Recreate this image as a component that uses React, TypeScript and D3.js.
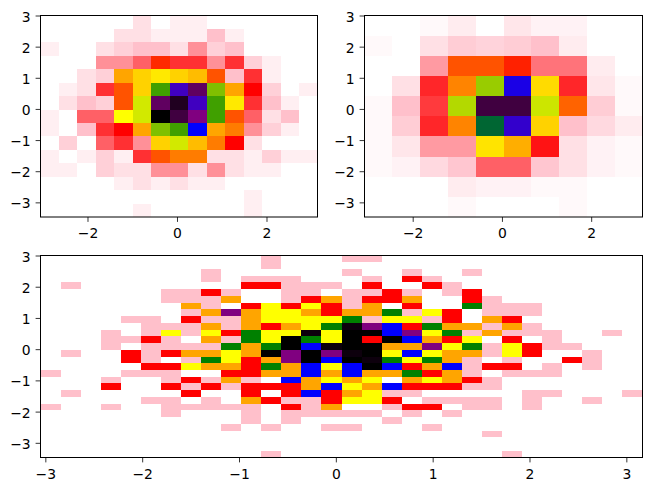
import React, { useEffect, useRef } from "react";
import * as d3 from "d3";

// Colour ramp of the histogram
const rampColors = ["white", "pink", "red", "orange", "yellow", "green", "blue", "purple", "black"];

// Counts, rows from top to bottom
const countsTopLeft = [
  [0,0,0,0,0,2,0,1,1,0,0,0,0,0,0],
  [0,0,0,0,2,2,1,1,1,4,1,0,0,0,0],
  [1,0,0,2,3,4,4,2,5,3,4,0,0,0,0],
  [0,0,0,5,5,6,9,7,7,5,7,3,1,0,0],
  [0,0,2,3,12,14,15,14,13,10,4,7,1,0,0],
  [0,1,2,7,10,14,19,26,29,18,12,8,3,0,1],
  [0,2,4,3,10,16.7,29,31,26,19,15,7,4,1,0],
  [1,0,6,6,16,16.7,32,30,28,19,10,6,2,4,0],
  [1,0,4,7,8,12,18,19,24,12,11,5,3,1,0],
  [0,3,0,6,7,5,14,16.7,13,11,8,2,0,0,0],
  [1,0,1,3,1,7,10,11,11,2,2,1,3,1,1],
  [1,1,0,3,2,2,5,5,2,5,2,1,1,0,0],
  [0,0,0,0,1,2,1,2,1,1,0,0,0,0,0],
  [0,0,0,0,0,0,0,0,0,0,0,1,0,0,0],
  [0,0,0,0,0,1,0,0,0,0,0,1,0,0,0],
];

const countsTopRight = [
  [0,0,1,3,0,4,2,2,0,0],
  [1,0,5,8,7,8,10,3,0,0],
  [0,0,12,25,25,22,14,14,3,0],
  [0,5,18,28,44,62,36,18,4,1],
  [1,10,17,43,75,75,42,26,8,1],
  [1,8,18,28,52,64,35,10,6,3],
  [1,4,12,12,37,31,19,5,2,1],
  [1,2,6,9,15,15,9,5,2,1],
  [0,0,0,3,2,2,1,1,0,0],
  [0,0,0,1,0,0,0,1,0,0],
];

const countsBottom = [
  [0,0,0,0,0,0,0,0,0,0,0,1,0,0,0,1,1,0,0,0,0,0,0,0,0,0,0,0,0,0],
  [0,0,0,0,0,0,0,0,0,0,0,1,0,0,0,0,0,0,0,0,0,0,0,0,0,0,0,0,0,0],
  [0,0,0,0,0,0,0,0,1,0,0,0,0,0,0,1,0,0,1,0,0,1,0,0,0,0,0,0,0,0],
  [0,0,0,0,0,0,0,0,1,0,1,1,1,0,0,0,1,0,2,1,0,0,0,0,0,0,0,0,0,0],
  [0,1,0,0,0,0,0,0,0,0,2,2,1,1,1,0,2,0,0,2,1,0,0,0,0,0,0,0,0,0],
  [0,0,0,0,0,0,1,1,2,1,0,0,1,1,0,1,1,2,1,0,1,2,0,0,0,0,0,0,0,0],
  [0,0,0,0,0,0,1,1,1,3,0,0,1,2,3,1,2,2,3,0,0,2,1,0,0,0,0,0,0,0],
  [0,0,0,0,0,0,0,3,1,0,2,4,2,4,2,1,3,0,2,0,0,5,1,1,1,0,0,0,0,0],
  [0,0,0,0,0,0,0,1,3,7,3,4,4,3,2,3,3,5,1,4,2,0,1,1,1,0,0,0,0,0],
  [0,0,0,0,1,1,0,2,1,1,3,4,4,4,4,5,1,4,4,1,2,0,3,2,0,0,0,0,0,0],
  [0,0,0,0,0,1,1,1,3,1,3,2,3,4,5,7.9,7,6,2,5,3,3,1,3,1,0,0,0,0,0],
  [0,0,0,1,0,1,4,1,4,2,5,4,4,7.9,4,8,8,6,7,4,5,1,3,1,1,1,0,0,1,0],
  [0,0,0,1,1,2,1,0,3,1,5,4,8,5,4,8,2,8,6,3,2,4,0,2,0,1,0,0,0,0],
  [0,0,0,1,0,1,1,1,1,5,3,5,8,6,7.9,8,8,3,3,7,4,5,1,4,2,1,1,0,0,0],
  [0,1,0,0,2,1,2,3,3,4,3,8,7,8,7,7.9,8,4,6,4,3,3,1,4,2,0,0,1,0,0],
  [0,0,0,0,2,1,0,1,5,4,2,3,7,8,6,8,7.9,5,4,5,3,1,0,1,0,0,2,1,0,0],
  [0,0,0,0,0,2,2,4,3,3,2,5,3,6,4,6,8,6,2,3,6,1,2,2,0,1,0,1,0,0],
  [1,0,0,0,1,1,1,0,0,2,2,3,3,6,3,6,3,3,5,2,3,1,0,1,1,1,0,0,0,0],
  [0,0,0,1,0,0,1,2,1,3,1,0,6,3,4,3,4,0,3,4,3,2,1,0,0,0,0,0,0,0],
  [0,0,0,2,0,0,2,1,2,1,2,2,2,3,6,4,3,6,2,2,2,1,1,0,0,0,0,0,0,0],
  [0,1,0,0,0,0,0,2,0,0,2,0,2,6,2,3,4,1,1,0,0,0,0,0,1,1,0,0,0,1],
  [0,0,0,0,0,1,1,0,1,0,3,2,1,1,2,4,4,2,0,1,1,1,1,0,1,0,0,1,0,0],
  [1,0,0,1,0,0,1,1,1,1,1,0,2,1,3,0,0,1,2,2,0,1,1,0,1,0,0,0,0,0],
  [0,0,0,0,0,0,1,0,0,0,1,0,1,1,1,1,1,0,1,0,1,0,0,0,0,0,0,0,0,0],
  [0,0,0,0,0,0,0,0,0,0,1,0,1,0,0,0,0,1,0,0,0,0,0,0,0,0,0,0,0,0],
  [0,0,0,0,0,0,0,0,0,1,0,1,0,0,1,1,0,0,0,1,0,0,0,0,0,0,0,0,0,0],
  [0,0,0,0,0,0,0,0,0,0,0,0,0,0,0,0,0,0,0,0,0,0,1,0,0,0,0,0,0,0],
  [0,0,0,0,0,0,0,0,0,0,0,0,0,0,0,0,0,0,0,0,0,0,0,0,0,0,0,0,0,0],
  [0,0,0,0,0,0,0,0,0,0,0,0,0,0,0,0,0,0,0,0,0,0,0,0,0,0,0,0,0,0],
  [0,0,0,0,0,0,0,0,0,0,0,1,0,0,0,0,0,0,0,0,0,0,0,1,0,0,0,0,0,0],
];

// Axis ticks
const yTicks = [-3, -2, -1, 0, 1, 2, 3];
const xTicksSparse = [-2, 0, 2];
const xTicksDense = [-3, -2, -1, 0, 1, 2, 3];

type PanelProps = {
  counts: number[][];
  vmax: number;
  left: number;
  right: number;
  top: number;
  bottom: number;
  xDomain: [number, number];
  yDomain: [number, number];
  xTicks: number[];
};

const FONT = "'DejaVu Sans'";

function Panel({ counts, vmax, left, right, top, bottom, xDomain, yDomain, xTicks }: PanelProps) {
  const xRef = useRef<SVGGElement>(null);
  const yRef = useRef<SVGGElement>(null);
  const x = d3.scaleLinear().domain(xDomain).range([left, right]);
  const y = d3.scaleLinear().domain(yDomain).range([bottom, top]);
  const color = d3
    .scaleLinear<string>()
    .domain(rampColors.map((_, i) => (i * vmax) / (rampColors.length - 1)))
    .range(rampColors)
    .interpolate(d3.interpolateRgb);
  const nRows = counts.length;
  const nCols = counts[0].length;
  const rowEdge = d3.scaleLinear().domain([0, nRows]).range(yDomain.slice().reverse());
  const colEdge = d3.scaleLinear().domain([0, nCols]).range(xDomain);

  useEffect(() => {
    const style = (g: d3.Selection<SVGGElement, unknown, null, undefined>) => {
      g.select(".domain").remove();
      g.selectAll("line").attr("stroke", "#000").attr("stroke-width", 0.8);
      g.selectAll("text").attr("font-family", FONT).attr("font-size", 13.9).attr("fill", "#000");
    };
    d3.select(xRef.current!)
      .call(d3.axisBottom(x).tickValues(xTicks).tickSize(4.9).tickPadding(6.4).tickFormat(d3.format("d")) as any)
      .call(style as any);
    d3.select(yRef.current!)
      .call(d3.axisLeft(y).tickValues(yTicks).tickSize(4.9).tickPadding(5).tickFormat(d3.format("d")) as any)
      .call(style as any)
      .selectAll("text")
      .attr("dy", "0.4em");
  });

  return (
    <g>
      <g shapeRendering="crispEdges">
        {counts.map((row, r) =>
          row.map((v, c) =>
            v > 0 ? (
              <rect
                key={`${r}-${c}`}
                x={x(colEdge(c))}
                y={y(rowEdge(r))}
                width={x(colEdge(c + 1)) - x(colEdge(c))}
                height={y(rowEdge(r + 1)) - y(rowEdge(r))}
                fill={color(v)}
              />
            ) : null
          )
        )}
      </g>
      <rect x={left} y={top} width={right - left} height={bottom - top} fill="none" stroke="#000" strokeWidth={1} />
      <g ref={xRef} transform={`translate(0,${bottom})`} />
      <g ref={yRef} transform={`translate(${left},0)`} />
    </g>
  );
}

export default function App() {
  return (
    <svg
      width={651}
      height={491}
      viewBox="0 0 651 491"
      style={{ position: "absolute", left: 0, top: 0, background: "white" }}
    >
      <Panel counts={countsTopLeft} vmax={32} left={40.5} right={317.5} top={15.5} bottom={217} xDomain={[-3.05, 3.14]} yDomain={[-3.47, 3]} xTicks={xTicksSparse} />
      <Panel counts={countsTopRight} vmax={80} left={364.5} right={642.5} top={15.5} bottom={217} xDomain={[-3.08, 3.15]} yDomain={[-3.47, 3]} xTicks={xTicksSparse} />
      <Panel counts={countsBottom} vmax={8} left={40.5} right={642.5} top={255.5} bottom={457.5} xDomain={[-3.05, 3.167]} yDomain={[-3.47, 3]} xTicks={xTicksDense} />
    </svg>
  );
}
